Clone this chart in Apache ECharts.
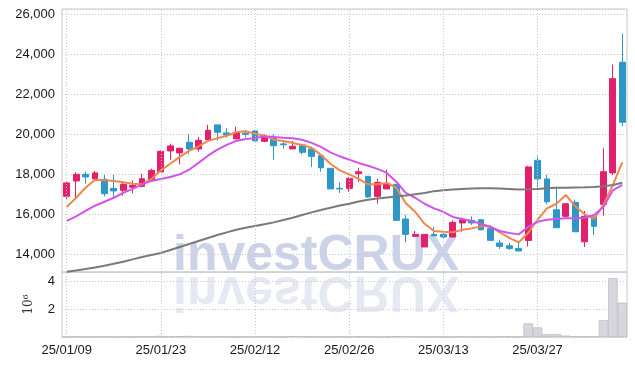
<!DOCTYPE html>
<html>
<head>
<meta charset="utf-8">
<script src="https://cdn.jsdelivr.net/npm/echarts@6/dist/echarts.min.js"></script>
<style>
  html, body { margin: 0; padding: 0; background: #fff; }
  #chart { width: 635px; height: 366px; }
</style>
</head>
<body>
<div id="chart"></div>
<script>
// trading days (KRX)
const dates = [
  '25/01/09', '25/01/10', '25/01/13', '25/01/14', '25/01/15', '25/01/16', '25/01/17', '25/01/20', '25/01/21', '25/01/22',
  '25/01/23', '25/01/24', '25/01/31', '25/02/03', '25/02/04', '25/02/05', '25/02/06', '25/02/07', '25/02/10', '25/02/11',
  '25/02/12', '25/02/13', '25/02/14', '25/02/17', '25/02/18', '25/02/19', '25/02/20', '25/02/21', '25/02/24', '25/02/25',
  '25/02/26', '25/02/27', '25/02/28', '25/03/04', '25/03/05', '25/03/06', '25/03/07', '25/03/10', '25/03/11', '25/03/12',
  '25/03/13', '25/03/14', '25/03/17', '25/03/18', '25/03/19', '25/03/20', '25/03/21', '25/03/24', '25/03/25', '25/03/26',
  '25/03/27', '25/03/28', '25/03/31', '25/04/01', '25/04/02', '25/04/03', '25/04/04', '25/04/07', '25/04/08', '25/04/09'
];

const opens = [
  16900, 17670, 18000, 17770, 17750, 17300, 17200, 17350, 17400, 17700,
  18120, 19170, 19070, 19600, 19270, 19730, 20470, 20070, 19770, 20050,
  20170, 19650, 19800, 19520, 19270, 19470, 19270, 18930, 18300, 17300,
  17300, 18030, 17900, 16900, 17270, 17500, 15770, 14900, 14370, 15000,
  15000, 14870, 15570, 15700, 15730, 15300, 14570, 14430, 14300, 14700,
  18700, 17770, 16230, 15900, 16600, 14630, 15870, 16500, 18070, 23600
];
const closes = [
  17570, 18000, 17870, 18070, 17030, 17170, 17500, 17450, 17780, 18200,
  19150, 19420, 19300, 19270, 19700, 20200, 20100, 19970, 20100, 20000,
  19670, 19850, 19430, 19480, 19400, 19100, 18900, 18330, 17270, 17270,
  17800, 18130, 16870, 17600, 17530, 15700, 15000, 15000, 15000, 14930,
  14870, 15600, 15730, 15570, 15230, 14700, 14400, 14300, 14170, 18370,
  17770, 16630, 15330, 16530, 15130, 15900, 15400, 18130, 22780, 20600
];
const lows = [
  16780, 16830, 17530, 17750, 16900, 16780, 16930, 17050, 17350, 17670,
  18120, 18730, 18500, 19000, 19130, 19700, 19670, 19830, 19770, 19850,
  19670, 19600, 18730, 19270, 19270, 19000, 18370, 18130, 17270, 17070,
  17130, 17630, 16830, 16530, 17270, 15700, 14600, 14900, 14370, 14930,
  14830, 14870, 15130, 15470, 15200, 14700, 14270, 14230, 14170, 14400,
  17270, 16500, 15330, 15770, 15130, 14370, 14970, 15930, 17970, 20400
];
const highs = [
  17620, 18100, 18130, 18170, 17970, 17970, 17570, 17700, 18030, 18280,
  19200, 19530, 19330, 20000, 19870, 20470, 20480, 20300, 20370, 20200,
  20200, 20000, 20000, 19670, 19670, 19500, 19370, 18950, 18300, 17600,
  17850, 18330, 17900, 17770, 18230, 17500, 15970, 15170, 15000, 15370,
  15070, 15700, 15830, 15900, 15730, 15300, 14730, 14570, 14570, 18430,
  18930, 17970, 17370, 16530, 16730, 16170, 15900, 19300, 23480, 25030
];

// moving averages
const maShort = [
  16370, 16830, 17330, 17730, 17700, 17670, 17600, 17530, 17500, 17770,
  18200, 18530, 18870, 19170, 19400, 19670, 19800, 19930, 20100, 20150,
  20030, 19930, 19730, 19670, 19570, 19470, 19330, 18970, 18530, 18200,
  18000, 17770, 17500, 17500, 17570, 17330, 16570, 16130, 15530, 15170,
  15130, 15100, 15230, 15300, 15400, 15400, 15100, 14830, 14600, 15070,
  15730, 16300, 16530, 16970, 16400, 16000, 15770, 16470, 17470, 18600
];
const maMid = [
  15670, 15900, 16170, 16430, 16630, 16830, 17070, 17270, 17500, 17670,
  17770, 17870, 18000, 18230, 18570, 18930, 19230, 19470, 19670, 19770,
  19800, 19900, 19870, 19830, 19800, 19730, 19570, 19370, 19100, 18900,
  18730, 18570, 18430, 18270, 18070, 17630, 17070, 16830, 16530, 16300,
  16130, 15870, 15770, 15670, 15530, 15370, 15170, 15070, 15000, 15370,
  15630, 15730, 15770, 15800, 15800, 15830, 15970, 16370, 17200, 17470
];
const maLong = [
  13130, 13200, 13270, 13350, 13430, 13530, 13630, 13750, 13870, 13970,
  14070, 14220, 14370, 14520, 14670, 14820, 14970, 15100, 15230, 15330,
  15420, 15510, 15600, 15720, 15830, 15970, 16100, 16220, 16330, 16440,
  16530, 16640, 16730, 16790, 16840, 16890, 16940, 17000, 17070, 17160,
  17200, 17240, 17270, 17290, 17300, 17300, 17290, 17270, 17240, 17250,
  17270, 17300, 17330, 17330, 17340, 17350, 17370, 17400, 17470, 17580
];

// volume, in millions
const volumes = [
  0.02, 0.03, 0.02, 0.02, 0.03, 0.02, 0.02, 0.02, 0.03, 0.04,
  0.08, 0.03, 0.05, 0.07, 0.03, 0.02, 0.03, 0.03, 0.02, 0.02,
  0.03, 0.04, 0.02, 0.02, 0.05, 0.06, 0.03, 0.02, 0.02, 0.03,
  0.02, 0.04, 0.03, 0.02, 0.02, 0.05, 0.06, 0.03, 0.02, 0.02,
  0.02, 0.02, 0.03, 0.02, 0.02, 0.02, 0.03, 0.03, 0.02, 0.98,
  0.69, 0.20, 0.20, 0.10, 0.05, 0.03, 0.03, 1.22, 4.26, 2.48
];

const labelFont = "'Liberation Sans', Arial, sans-serif";
const upColor = '#e2206c';
const downColor = '#2f97c8';
const gridLine = { type: [1, 2], color: '#c4c9d9', width: 1 };

// vertical guides sit on the labelled days
const vLines = dates.filter((d, i) => i % 10 === 0).map(d => ({ xAxis: d }));
const vMark = {
  silent: true,
  symbol: 'none',
  label: { show: false },
  lineStyle: gridLine,
  data: vLines
};

const chart = echarts.init(document.getElementById('chart'));
chart.setOption({
  animation: false,
  graphic: [
    {
      type: 'text', z: 0, x: 173, y: 256,
      style: {
        text: 'investCRUX', fill: '#ccd2e7',
        font: "bold 50px 'Liberation Sans', Arial, sans-serif",
        textVerticalAlign: 'middle'
      }
    },
    {
      type: 'text', z: 0, x: 173, y: 274, scaleY: -1,
      style: {
        text: 'investCRUX', y: -17,
        font: "bold 50px 'Liberation Sans', Arial, sans-serif",
        textVerticalAlign: 'middle',
        fill: '#e6e9f2'
      }
    }
  ],
  grid: [
    { left: 62, right: 8, top: 9, height: 263, show: true, borderColor: '#c8c8c8', borderWidth: 1 },
    { left: 62, right: 8, top: 272, height: 65, show: true, borderColor: '#c8c8c8', borderWidth: 1 }
  ],
  xAxis: [
    {
      type: 'category', gridIndex: 0, data: dates,
      axisLabel: { show: false }, axisTick: { show: false },
      axisLine: { show: false }, splitLine: { show: false }
    },
    {
      type: 'category', gridIndex: 1, data: dates,
      axisLabel: { interval: 9, fontSize: 13, color: '#1a1a1a', fontFamily: labelFont, margin: 7 },
      axisTick: { show: false }, axisLine: { show: false }, splitLine: { show: false }
    }
  ],
  yAxis: [
    {
      type: 'value', gridIndex: 0, min: 13120, max: 26260, splitNumber: 6,
      axisLine: { show: false }, axisTick: { show: false },
      axisLabel: {
        fontSize: 13, color: '#1a1a1a', fontFamily: labelFont, margin: 7,
        formatter: v => (v % 2000 === 0 ? v.toLocaleString('en-US') : '')
      },
      splitLine: { lineStyle: gridLine }
    },
    {
      type: 'value', gridIndex: 1, min: 0, max: 4.7, interval: 2,
      name: '10⁶', nameLocation: 'middle', nameRotate: 90, nameGap: 27,
      nameTextStyle: { fontSize: 12, color: '#333', fontFamily: "'DejaVu Serif', serif" },
      axisLine: { show: false }, axisTick: { show: false },
      axisLabel: {
        fontSize: 13, color: '#1a1a1a', fontFamily: labelFont, margin: 7,
        formatter: v => (v > 0 && v % 2 === 0 ? String(v) : '')
      },
      splitLine: { lineStyle: gridLine }
    }
  ],
  series: [
    {
      type: 'candlestick', xAxisIndex: 0, yAxisIndex: 0,
      data: opens.map((o, i) => [o, closes[i], lows[i], highs[i]]),
      barWidth: '68%',
      itemStyle: {
        color: upColor, color0: downColor,
        borderColor: upColor, borderColor0: downColor, borderWidth: 1
      },
      markLine: vMark
    },
    {
      type: 'line', xAxisIndex: 0, yAxisIndex: 0, data: maShort,
      showSymbol: false, lineStyle: { color: '#f0874c', width: 2 }
    },
    {
      type: 'line', xAxisIndex: 0, yAxisIndex: 0, data: maMid,
      showSymbol: false, lineStyle: { color: '#cf55ec', width: 2 }
    },
    {
      type: 'line', xAxisIndex: 0, yAxisIndex: 0, data: maLong,
      showSymbol: false, lineStyle: { color: '#7a7a7a', width: 2 }
    },
    {
      type: 'bar', xAxisIndex: 1, yAxisIndex: 1, data: volumes,
      barCategoryGap: '0%',
      itemStyle: { color: '#d6d6dc', borderColor: '#b4b4bc', borderWidth: 0.6 },
      markLine: vMark
    }
  ]
});
</script>
</body>
</html>
